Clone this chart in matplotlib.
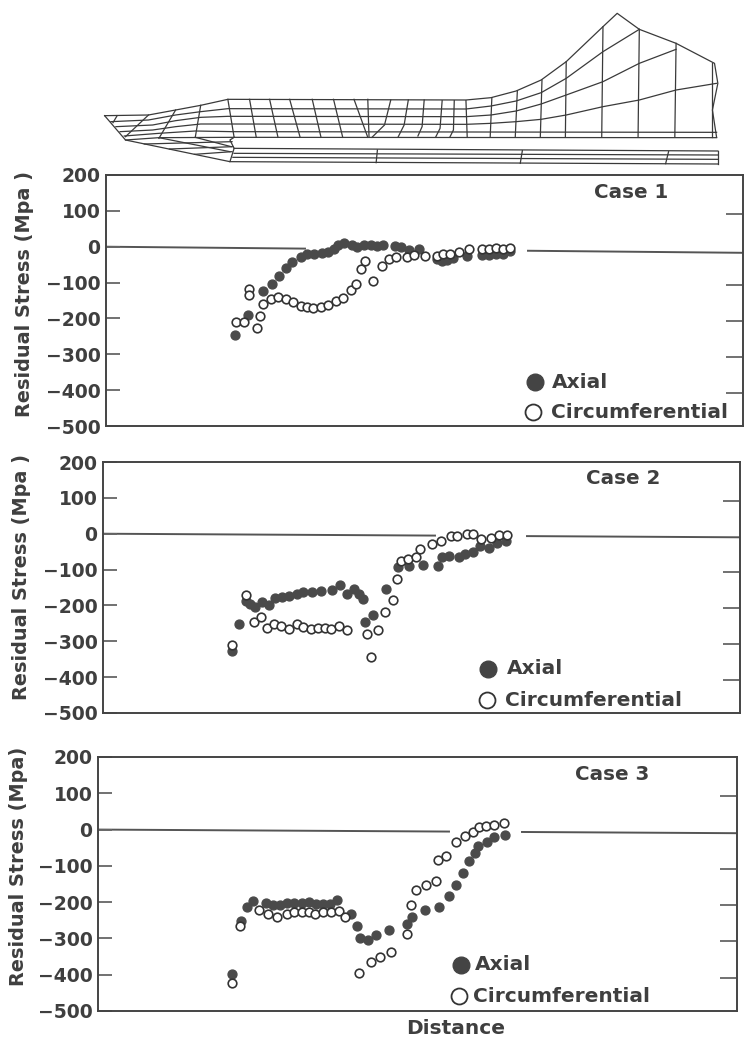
import matplotlib
matplotlib.use("Agg")
import matplotlib.pyplot as plt

W, H = 745, 1043
INK = "#3f3f3f"

# Values. Distance has no scale, so it is kept in picture units.
case1_axial_x = [235, 248, 263, 272, 279, 286, 292, 301, 307, 314, 322, 328, 334, 338, 344, 352, 357, 364, 371, 377, 383, 395, 401, 409, 419, 437, 442, 447, 453, 467, 482, 489, 496, 503, 510]
case1_axial_y = [-247, -191, -123, -103, -82, -60, -43, -28, -21, -21, -17, -15, -6, 4, 9, 6, -2, 4, 6, 2, 4, 2, 0, -9, -6, -35, -40, -37, -31, -26, -24, -22, -19, -19, -12]
case1_circ_x = [236, 244, 257, 260, 249, 249, 263, 271, 278, 286, 293, 301, 307, 313, 321, 328, 336, 343, 351, 356, 361, 365, 373, 382, 389, 396, 407, 414, 425, 437, 443, 450, 459, 469, 482, 489, 496, 503, 510]
case1_circ_y = [-210, -210, -228, -192, -118, -136, -159, -147, -141, -145, -155, -165, -169, -172, -169, -163, -151, -142, -121, -103, -61, -39, -95, -53, -35, -29, -28, -24, -25, -26, -19, -19, -15, -7, -5, -6, -3, -6, -3]

case2_axial_x = [232, 239, 246, 250, 255, 262, 269, 275, 282, 289, 297, 303, 312, 321, 332, 340, 347, 354, 359, 363, 365, 373, 386, 398, 409, 423, 438, 442, 449, 459, 465, 473, 480, 489, 497, 506]
case2_axial_y = [-327, -251, -188, -197, -204, -190, -200, -179, -176, -174, -167, -163, -162, -161, -157, -144, -169, -153, -167, -181, -246, -228, -154, -94, -91, -88, -89, -65, -63, -65, -56, -51, -35, -40, -26, -21]
case2_circ_x = [232, 246, 254, 261, 267, 274, 281, 289, 297, 303, 311, 318, 325, 331, 339, 347, 367, 378, 371, 385, 393, 397, 401, 408, 416, 420, 432, 441, 451, 457, 467, 473, 481, 491, 499, 507]
case2_circ_y = [-311, -170, -246, -232, -263, -253, -257, -265, -251, -259, -265, -263, -262, -267, -256, -268, -279, -269, -343, -217, -184, -126, -77, -70, -64, -44, -28, -20, -7, -5, -2, -2, -14, -12, -3, -3]

case3_axial_x = [232, 241, 247, 253, 266, 273, 280, 287, 294, 302, 309, 316, 323, 330, 337, 351, 357, 360, 368, 376, 389, 407, 412, 425, 439, 449, 456, 463, 469, 475, 478, 487, 494, 505]
case3_axial_y = [-397, -251, -214, -198, -201, -209, -209, -203, -203, -201, -200, -205, -206, -204, -194, -232, -267, -300, -304, -291, -278, -259, -242, -223, -213, -183, -152, -119, -87, -64, -45, -33, -20, -15]
case3_circ_x = [232, 240, 259, 268, 277, 287, 294, 302, 309, 315, 323, 331, 339, 345, 359, 371, 380, 391, 407, 411, 416, 426, 436, 438, 446, 456, 465, 473, 479, 486, 494, 504]
case3_circ_y = [-423, -266, -221, -233, -242, -232, -227, -227, -228, -232, -226, -228, -224, -241, -394, -365, -352, -337, -287, -207, -167, -154, -143, -85, -74, -33, -19, -6, 6, 10, 13, 17]

tick_values = [200, 100, 0, -100, -200, -300, -400, -500]
right_ticks = [100, -100, -200, -300, -400]

# Mesh outline of the part, in its own drawing units
mesh_lines = [
    # outer profile and right edge
    [(35, 347), (140, 345), (205, 330), (265, 316), (330, 298), (900, 300), (960, 293), (1020, 273), (1080, 240), (1140, 185), (1228, 80), (1262, 40), (1315, 88), (1403, 130), (1495, 190), (1503, 250), (1490, 330), (1500, 412)],
    # layers through the thickness
    [(50, 365), (140, 360), (205, 345), (265, 335), (330, 326), (900, 327), (960, 318), (1020, 303), (1080, 278), (1140, 235), (1228, 155), (1315, 88)],
    [(62, 380), (150, 375), (205, 362), (265, 352), (330, 349), (900, 350), (960, 345), (1020, 333), (1080, 312), (1140, 285), (1228, 245), (1315, 190), (1403, 148)],
    [(72, 395), (150, 390), (205, 380), (265, 372), (330, 372), (900, 373), (960, 370), (1020, 365), (1080, 358), (1140, 345), (1228, 320), (1315, 300), (1403, 270), (1500, 250)],
    [(82, 408), (165, 400), (252, 393), (340, 395), (1500, 397)],
    [(85, 420), (165, 413), (340, 412), (1500, 413)],
    # radial lines
    [(65, 347), (55, 368)], [(140, 345), (85, 410)], [(205, 330), (165, 415)], [(265, 316), (252, 412)],
    [(330, 298), (345, 412)], [(382, 298), (398, 412)], [(430, 298), (450, 412)], [(478, 298), (503, 412)],
    [(532, 298), (553, 412)], [(583, 298), (605, 412)], [(632, 298), (665, 412)], [(665, 298), (668, 412)],
    [(720, 300), (705, 375), (675, 412)], [(762, 300), (752, 375), (738, 410)], [(800, 300), (795, 380), (785, 408)],
    [(843, 302), (838, 385), (828, 410)], [(872, 302), (870, 390), (862, 410)], [(900, 302), (903, 412)],
    [(962, 293), (958, 412)], [(1023, 273), (1018, 412)], [(1082, 240), (1078, 412)], [(1140, 185), (1138, 412)],
    [(1228, 80), (1225, 412)], [(1315, 88), (1312, 412)], [(1403, 130), (1400, 412)], [(1490, 190), (1490, 412)],
    # lower wedge
    [(35, 347), (85, 420), (335, 485), (345, 445), (335, 420), (345, 412)],
    [(165, 413), (335, 455)], [(252, 412), (338, 440)], [(130, 432), (340, 425)], [(190, 447), (342, 440)], [(250, 463), (340, 455)],
    # lower plate
    [(345, 445), (1503, 453)], [(345, 460), (1503, 465)], [(342, 472), (1503, 478)], [(335, 485), (1503, 492)],
    [(688, 450), (685, 488)], [(1035, 452), (1030, 490)], [(1385, 455), (1378, 491)], [(1503, 453), (1503, 492)],
]

plt.rcParams["font.family"] = "DejaVu Sans"
plt.rcParams["font.weight"] = "bold"

fig = plt.figure(figsize=(W / 100, H / 100), dpi=100, facecolor="white")


def box(left, top, right, bottom):
    return [left / W, 1 - bottom / H, (right - left) / W, (bottom - top) / H]


def draw_case(pos, ax_x, ax_y, c_x, c_y, gap, zero_end):
    left, top, right, bottom = pos
    ax = fig.add_axes(box(left, top, right, bottom))
    ax.set_xlim(left, right)
    ax.set_ylim(-500, 200)
    # the baseline runs slightly downhill and is broken around the data
    ax.plot([left, gap[0]], [0, zero_end * (gap[0] - left) / (right - left)], color="#555555", lw=1.4, zorder=1)
    ax.plot([gap[1], right], [zero_end * (gap[1] - left) / (right - left), zero_end], color="#555555", lw=1.4, zorder=1)
    ax.plot(ax_x, ax_y, "o", ms=6.4, mfc="#4a4a4a", mec="#4a4a4a", mew=1, ls="none", zorder=3)
    ax.plot(c_x, c_y, "o", ms=6.2, mfc="white", mec="#333333", mew=1.2, ls="none", zorder=4)
    ax.set_xticks([])
    ax.set_yticks(tick_values)
    ax.tick_params(axis="y", direction="in", length=10, width=1.3, color="#666666", pad=4, labelsize=13.5, labelcolor=INK)
    # right hand ticks sit a few pixels lower than the left ones
    ax2 = ax.twinx()
    ax2.set_ylim(-500 + 8, 200 + 8)
    ax2.set_yticks(right_ticks)
    ax2.set_yticklabels([])
    ax2.tick_params(axis="y", direction="in", length=12, width=1.3, color="#666666")
    for a in (ax, ax2):
        for s in a.spines.values():
            s.set_color("#444444")
            s.set_linewidth(1.2)
    return ax


draw_case((106, 175, 743, 426), case1_axial_x, case1_axial_y, case1_circ_x, case1_circ_y, (305, 528), -17)
draw_case((103, 462, 740, 713), case2_axial_x, case2_axial_y, case2_circ_x, case2_circ_y, (435, 527), -10)
draw_case((98, 757, 737, 1011), case3_axial_x, case3_axial_y, case3_circ_x, case3_circ_y, (449, 522), -10)

# mesh drawing above the charts
mesh = fig.add_axes(box(90, 0, 745, 175))
mesh.set_xlim(0, 1568)
mesh.set_ylim(525, 0)
mesh.axis("off")
for line in mesh_lines:
    mesh.plot([p[0] for p in line], [p[1] for p in line], color="#3a3a3a", lw=0.9)

# labels and legends placed in picture units
over = fig.add_axes([0, 0, 1, 1])
over.set_xlim(0, W)
over.set_ylim(H, 0)
over.axis("off")

for x, y, txt in [(25, 294, "Residual Stress (Mpa )"), (22, 577, "Residual Stress (Mpa )"), (19, 866, "Residual Stress (Mpa)")]:
    over.text(x, y, txt, rotation=90, ha="center", va="center", fontsize=13.9, color=INK)

for x, y, txt in [(631, 193, "Case 1"), (623, 478, "Case 2"), (612, 775, "Case 3")]:
    over.text(x, y, txt, ha="center", va="center", fontsize=14.3, color=INK)

over.text(456, 1028, "Distance", ha="center", va="center", fontsize=14.5, color=INK)

legend_rows = [(535, 382, 552, 533, 412, 551), (488, 669, 507, 487, 700, 505), (461, 965, 475, 459, 996, 473)]
for mx, my, tx, cx, cy, ctx in legend_rows:
    over.plot([mx], [my], "o", ms=12, mfc="#444444", mec="#444444")
    over.plot([cx], [cy], "o", ms=11.5, mfc="white", mec="#333333", mew=1.3)
    over.text(tx, my, "Axial", ha="left", va="center", fontsize=14.5, color=INK)
    over.text(ctx, cy, "Circumferential", ha="left", va="center", fontsize=14.5, color=INK)

fig.savefig("out.png", dpi=100)
